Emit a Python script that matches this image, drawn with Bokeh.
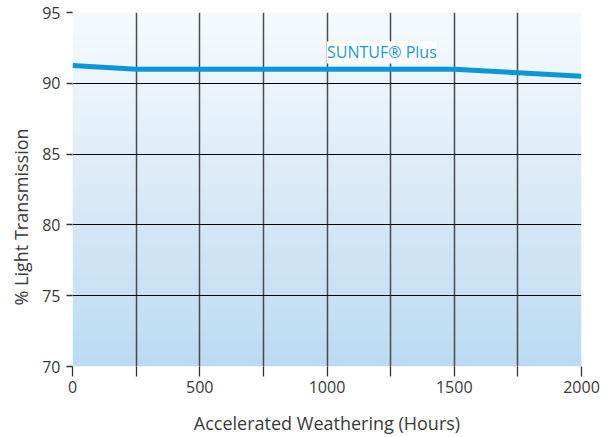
import numpy as np
from bokeh.plotting import figure
from bokeh.models import FixedTicker, Label, Range1d, Title
from bokeh.embed import file_html
from bokeh.resources import INLINE

hours = [0, 250, 500, 750, 1000, 1250, 1500, 1750, 2000]
transmission = [91.25, 91.0, 91.0, 91.0, 91.0, 91.0, 91.0, 90.75, 90.5]
x_ticks = [0, 250, 500, 750, 1000, 1250, 1500, 1750, 2000]
y_ticks = [70, 75, 80, 85, 90, 95]
series_name = "SUNTUF® Plus"
x_title = "Accelerated Weathering (Hours)"
y_title = "% Light Transmission"

FONT = "Open Sans"

p = figure(width=613, height=437, output_backend="svg", toolbar_location=None,
           x_range=Range1d(0, 2000), y_range=Range1d(70, 95),
           min_border_left=72, min_border_right=32, min_border_top=12, min_border_bottom=71)
p.outline_line_color = None
p.background_fill_color = "white"
p.border_fill_color = "white"

# gradient background
n = 200
top = np.array([248, 251, 254])
bot = np.array([188, 219, 242])
t = np.linspace(0, 1, n)[:, None]
cols = (bot * (1 - t) + top * t).astype(np.uint32)
img = np.empty((n, 1), dtype=np.uint32)
view = img.view(dtype=np.uint8).reshape((n, 1, 4))
view[:, 0, 0] = cols[:, 0]
view[:, 0, 1] = cols[:, 1]
view[:, 0, 2] = cols[:, 2]
view[:, 0, 3] = 255
p.image_rgba(image=[img], x=0, y=70, dw=2000, dh=25, level="image")

# grids
p.xgrid.ticker = FixedTicker(ticks=x_ticks)
p.ygrid.ticker = FixedTicker(ticks=y_ticks)
p.xgrid.grid_line_color = "#4a4a4a"
p.xgrid.grid_line_width = 1.5
p.ygrid.grid_line_color = "black"
p.ygrid.grid_line_width = 1.2
p.xgrid.level = "underlay"
p.ygrid.level = "underlay"

p.line(hours, transmission, line_color="#0a97d9", line_width=5)

lab = Label(x=1000, y=91.4, text=series_name, text_font=FONT, text_font_size="16px",
            text_color="#1a9ad6", text_align="left", text_baseline="bottom",
            background_fill_color="white", background_fill_alpha=1.0)
p.add_layout(lab)

# axes
p.xaxis.ticker = FixedTicker(ticks=x_ticks)
p.xaxis.major_label_overrides = {250: "", 750: "", 1250: "", 1750: ""}
p.yaxis.ticker = FixedTicker(ticks=y_ticks)
for ax in (p.xaxis, p.yaxis):
    ax.axis_line_color = None
    ax.minor_tick_line_color = None
    ax.major_tick_line_color = "#333333"
    ax.major_tick_line_width = 1.3
    ax.major_tick_in = 0
    ax.major_label_text_font = FONT
    ax.major_label_text_font_size = "16px"
    ax.major_label_text_color = "#3a3a3a"
p.xaxis.major_tick_out = 10
p.yaxis.major_tick_out = 6
p.xaxis.major_label_standoff = 4
p.yaxis.major_label_standoff = 6

p.xaxis.axis_label = x_title
p.xaxis.axis_label_text_font = FONT
p.xaxis.axis_label_text_font_size = "18px"
p.xaxis.axis_label_text_font_style = "normal"
p.xaxis.axis_label_text_color = "#3a3a3a"
p.xaxis.axis_label_standoff = 15

yt = Title(text=y_title, align="left", offset=61, standoff=13,
           text_font=FONT, text_font_size="18px", text_font_style="normal",
           text_color="#3a3a3a")
p.add_layout(yt, "left")

open("out.html", "w").write(file_html(p, INLINE))
